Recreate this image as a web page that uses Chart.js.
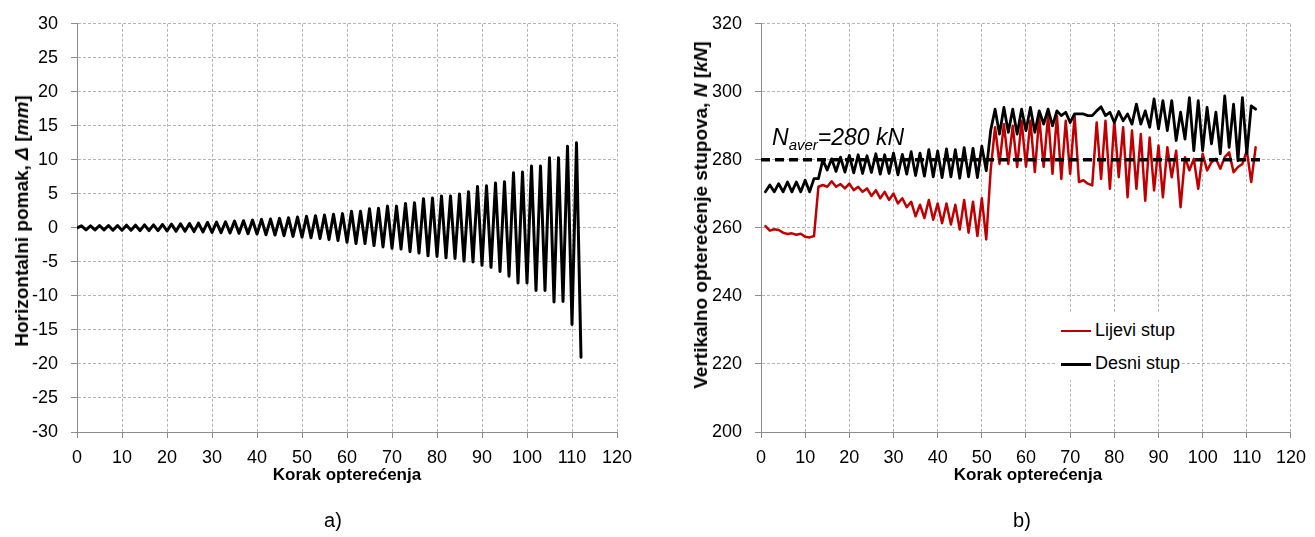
<!DOCTYPE html>
<html>
<head>
<meta charset="utf-8">
<script src="https://cdn.jsdelivr.net/npm/chart.js@4.4.1/dist/chart.umd.min.js"></script>
<style>
  html, body { margin: 0; padding: 0; background: #fff; }
  #wrap { position: relative; width: 1315px; height: 537px; overflow: hidden; font-family: "Liberation Sans", Arial, sans-serif; color: #000; }
  canvas { position: absolute; top: 0; }
  #chartA { left: 0; }
  #chartB { left: 655px; }
  .ytitle { position: absolute; font-weight: bold; font-size: 19px; white-space: nowrap; transform: translate(-50%, -50%) rotate(-90deg); }
  .xtitle { position: absolute; font-weight: bold; font-size: 17px; white-space: nowrap; transform: translate(-50%, -50%); }
  .caption { position: absolute; font-size: 20px; transform: translate(-50%, -50%); }
  #naver { position: absolute; left: 772px; top: 124px; font-style: italic; font-size: 23px; white-space: nowrap; }
  #naver sub { font-size: 15px; vertical-align: -5px; line-height: 0; }
  #legend { position: absolute; left: 1057px; top: 313px; width: 124px; height: 67px; background: #fff; font-size: 18px; }
  .row { position: absolute; left: 4px; height: 24px; line-height: 24px; white-space: nowrap; }
  .swatch { display: inline-block; width: 30px; vertical-align: middle; margin-right: 4px; }
</style>
</head>
<body>
<div id="wrap">
  <canvas id="chartA" width="655" height="537"></canvas>
  <canvas id="chartB" width="660" height="537"></canvas>

  <div class="ytitle" style="left:22px; top:221px;">Horizontalni pomak, <i>Δ</i> [<i>mm</i>]</div>
  <div class="ytitle" style="left:701px; top:215px;">Vertikalno opterećenje stupova, <i>N</i> [<i>kN</i>]</div>
  <div class="xtitle" style="left:347px; top:475px;">Korak opterećenja</div>
  <div class="xtitle" style="left:1028px; top:475px;">Korak opterećenja</div>
  <div class="caption" style="left:333px; top:520px;">a)</div>
  <div class="caption" style="left:1022px; top:520px;">b)</div>
  <div id="naver">N<sub>aver</sub>=280 kN</div>
  <div id="legend">
    <div class="row" style="top:5px;"><span class="swatch" style="border-top:2px solid #c00000;"></span>Lijevi stup</div>
    <div class="row" style="top:38px;"><span class="swatch" style="border-top:3px solid #000;"></span>Desni stup</div>
  </div>
</div>

<script>
// a) horizontal displacement per load step (steps 0..112)
const dispSteps = Array.from({ length: 113 }, (_, i) => i);
const dispValues = [
  0, 0.3, -0.3, 0.3, -0.3, 0.35, -0.3, 0.35, -0.35, 0.35, -0.35,
  0.4, -0.35, 0.4, -0.4, 0.45, -0.4, 0.45, -0.4, 0.5, -0.45,
  0.55, -0.5, 0.6, -0.5, 0.65, -0.55, 0.7, -0.6, 0.8, -0.65,
  0.85, -0.7, 0.9, -0.75, 1.0, -0.8, 1.05, -0.85, 1.15, -0.9,
  1.25, -1.0, 1.3, -1.05, 1.4, -1.15, 1.5, -1.25, 1.6, -1.35,
  1.7, -1.45, 1.8, -1.55, 1.9, -1.7, 2.0, -1.85, 2.1, -2.1,
  2.45, -2.3, 2.45, -2.3, 2.8, -2.6, 2.9, -2.8, 3.2, -3.0,
  3.2, -3.1, 3.6, -3.5, 3.7, -3.7, 4.3, -4.1, 4.4, -4.2,
  4.7, -4.4, 4.7, -4.5, 5.0, -4.9, 5.3, -5.0, 6.1, -5.5,
  6.2, -5.8, 6.6, -6.4, 6.8, -7.1, 8.1, -8.1, 8.2, -8.1,
  9.1, -9.2, 9.1, -9.2, 10.3, -10.9, 10.3, -10.8, 12.0, -14.2,
  12.5, -19.0
];

// b) vertical column load per load step (steps 1..112)
const loadSteps = Array.from({ length: 112 }, (_, i) => i + 1);
const leftColumn = [
  260.5, 259.2, 259.6, 259.4, 258.6, 258.2, 258.4, 258.0, 258.3, 257.4, 257.2, 257.6,
  272.1, 272.6, 272.1, 273.7, 272.1, 272.9, 271.6, 273.0, 271.1, 272.1,
  270.6, 271.6, 269.4, 271.1, 268.7, 270.6, 268.2, 270.1, 267.2, 268.7,
  266.1, 267.7, 263.4, 266.8, 262.9, 268.2, 262.4, 267.2, 261.4, 267.2,
  261.0, 266.8, 259.5, 268.2, 258.6, 267.7, 257.6, 268.7, 256.6, 276.9,
  289.6, 278.8, 290.5, 278.8, 290.0, 277.9, 291.5, 278.0, 291.5, 276.4,
  292.5, 277.9, 293.0, 275.9, 293.0, 274.4, 291.5, 275.9, 293.0, 273.5,
  274.0, 273.0, 272.5, 291.0, 274.4, 291.5, 271.5, 291.5, 274.9, 289.6,
  269.0, 288.6, 271.5, 287.6, 268.0, 286.6, 271.0, 284.2, 269.0, 283.7,
  274.9, 282.7, 266.1, 280.8, 276.9, 280.3, 271.5, 281.8, 276.9, 279.3,
  280.3, 277.4, 280.8, 282.2, 276.4, 277.9, 278.8, 282.7, 273.5, 283.7
];
const rightColumn = [
  270.6, 272.6, 270.6, 273.0, 270.6, 273.5, 270.6, 273.5, 270.6, 274.0, 270.6, 274.5,
  274.5, 280.0, 277.0, 280.3, 276.6, 280.8, 276.4, 281.3, 276.2, 281.5,
  276.0, 281.2, 276.3, 281.8, 275.8, 281.5, 276.0, 282.0, 275.6, 281.6,
  275.8, 282.4, 275.4, 282.0, 275.2, 283.0, 275.0, 282.6, 274.8, 283.2,
  275.0, 283.0, 274.6, 283.6, 275.0, 283.4, 274.8, 284.0, 276.8, 288.6,
  294.9, 287.6, 295.4, 288.1, 294.9, 287.6, 294.9, 288.6, 295.4, 288.1,
  294.4, 290.5, 294.9, 290.0, 294.4, 293.0, 294.0, 291.0, 293.5, 293.5,
  293.5, 293.0, 293.0, 294.4, 295.6, 293.0, 294.0, 291.0, 294.2, 291.5,
  293.5, 290.5, 296.4, 290.5, 294.4, 289.6, 297.9, 289.1, 297.4, 288.6,
  297.4, 285.7, 294.0, 286.1, 298.3, 282.7, 297.4, 282.7, 295.4, 284.7,
  294.0, 281.8, 298.8, 283.7, 296.4, 279.8, 298.3, 281.8, 295.9, 294.9
];
const averSteps = [0, 113.5];
const averValues = [280, 280];

const tickFont = { family: "'Liberation Sans', Arial, sans-serif", size: 18 };
const gridColor = "#b4b4b4";
const axisColor = "#8c8c8c";

function toPoints(xs, ys) {
  return ys.map((y, i) => ({ x: xs[i], y }));
}

function buildScales({ yMin, yMax, yStep, yWidth }) {
  return {
    x: {
      type: "linear",
      min: 0,
      max: 120,
      ticks: { stepSize: 10, color: "#000", font: tickFont, padding: 9, maxRotation: 0 },
      grid: { color: gridColor, tickColor: axisColor, tickLength: 6, lineWidth: 1 },
      border: { color: axisColor, width: 1, dash: [3, 2] },
      afterFit: (scale) => { scale.height = 105; },
    },
    y: {
      min: yMin,
      max: yMax,
      ticks: { stepSize: yStep, color: "#000", font: tickFont, padding: 13 },
      grid: { color: gridColor, tickColor: axisColor, tickLength: 6, lineWidth: 1 },
      border: { color: axisColor, width: 1, dash: [3, 2] },
      afterFit: (scale) => { scale.width = yWidth; },
    },
  };
}

const baseOptions = {
  responsive: false,
  animation: false,
  events: [],
  elements: { point: { radius: 0 }, line: { tension: 0, borderJoinStyle: "round", borderCapStyle: "round" } },
  plugins: { legend: { display: false }, tooltip: { enabled: false } },
};

new Chart(document.getElementById("chartA"), {
  type: "line",
  data: {
    datasets: [
      {
        label: "Horizontalni pomak",
        data: toPoints(dispSteps, dispValues),
        borderColor: "#000",
        borderWidth: 3,
      },
    ],
  },
  options: {
    ...baseOptions,
    layout: { padding: { left: 0, right: 38, top: 22, bottom: 0 } },
    scales: buildScales({ yMin: -30, yMax: 30, yStep: 5, yWidth: 77 }),
  },
});

new Chart(document.getElementById("chartB"), {
  type: "line",
  data: {
    datasets: [
      {
        label: "Lijevi stup",
        data: toPoints(loadSteps, leftColumn),
        borderColor: "#c00000",
        borderWidth: 2.5,
        order: 2,
      },
      {
        label: "Desni stup",
        data: toPoints(loadSteps, rightColumn),
        borderColor: "#000",
        borderWidth: 2.8,
        order: 1,
      },
      {
        label: "N aver",
        data: toPoints(averSteps, averValues),
        borderColor: "#000",
        borderWidth: 3.5,
        borderDash: [9, 5],
        borderCapStyle: "butt",
        order: 0,
      },
    ],
  },
  options: {
    ...baseOptions,
    layout: { padding: { left: 0, right: 20, top: 22, bottom: 0 } },
    scales: buildScales({ yMin: 200, yMax: 320, yStep: 20, yWidth: 106 }),
  },
});
</script>
</body>
</html>
